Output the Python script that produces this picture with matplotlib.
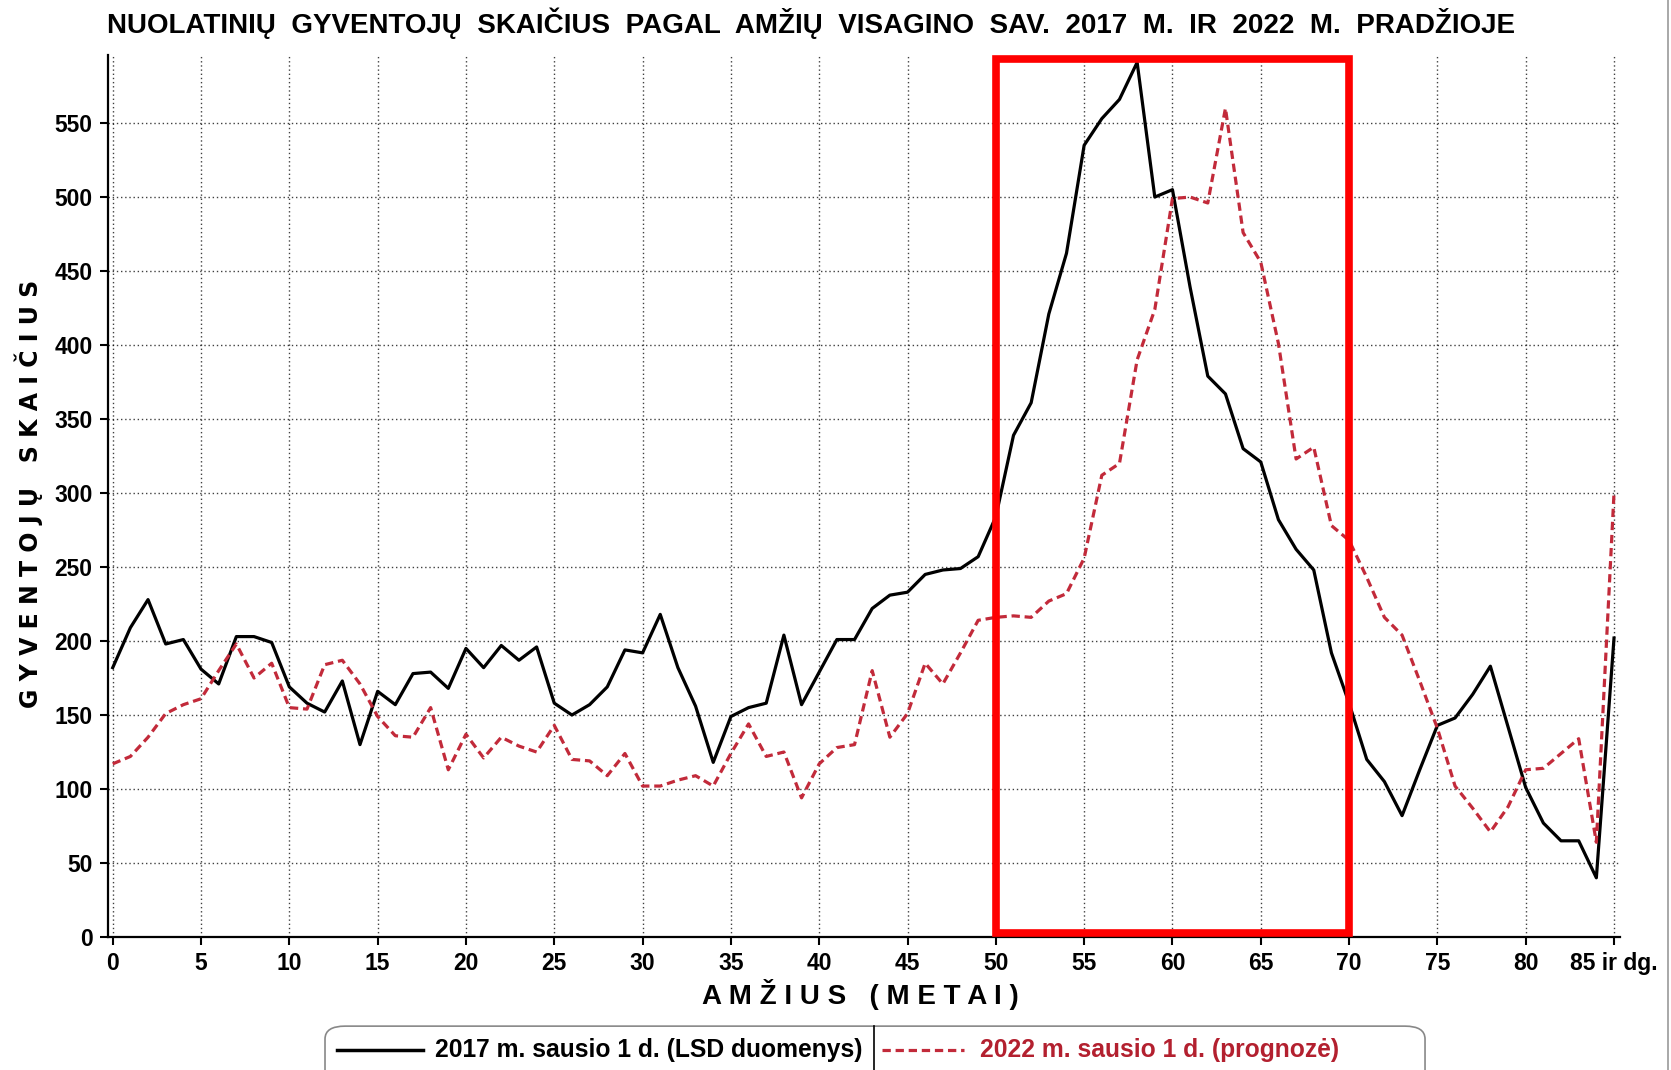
import matplotlib
matplotlib.use('Agg')
import matplotlib.pyplot as plt
from matplotlib.patches import Rectangle, FancyBboxPatch
from matplotlib.lines import Line2D

# amzius (metai), paskutinis - "85 ir dg."
ages = list(range(86))
x_ticks = [0, 5, 10, 15, 20, 25, 30, 35, 40, 45, 50, 55, 60, 65, 70, 75, 80, 85]
x_tick_labels = ['0', '5', '10', '15', '20', '25', '30', '35', '40', '45', '50',
                 '55', '60', '65', '70', '75', '80', '85 ir dg.']
y_ticks = [0, 50, 100, 150, 200, 250, 300, 350, 400, 450, 500, 550]

# 2017 m. sausio 1 d. (LSD duomenys)
pop_2017 = [182, 209, 228, 198, 201, 181, 171, 203, 203, 199,
            169, 158, 152, 173, 130, 166, 157, 178, 179, 168,
            195, 182, 197, 187, 196, 158, 150, 157, 169, 194,
            192, 218, 182, 156, 118, 149, 155, 158, 204, 157,
            179, 201, 201, 222, 231, 233, 245, 248, 249, 257,
            284, 339, 361, 421, 462, 535, 553, 566, 591, 500,
            505, 439, 379, 367, 330, 321, 282, 262, 248, 192,
            158, 120, 105, 82, 113, 143, 148, 164, 183, 142,
            101, 77, 65, 65, 40, 202]

# 2022 m. sausio 1 d. (prognoze)
pop_2022 = [117, 122, 135, 151, 157, 161, 180, 198, 175, 185,
            155, 154, 184, 187, 171, 149, 136, 135, 155, 113,
            137, 121, 135, 129, 125, 143, 120, 119, 109, 124,
            102, 102, 106, 109, 102, 124, 144, 122, 125, 94,
            117, 128, 130, 180, 135, 151, 185, 171, 192, 214,
            216, 217, 216, 227, 232, 256, 312, 320, 390, 424,
            499, 500, 496, 560, 476, 456, 401, 323, 331, 278,
            268, 243, 216, 204, 173, 141, 102, 87, 71, 88,
            113, 114, 124, 134, 64, 300]

highlight = (50, 70)

font = 'Liberation Sans'
red_line = '#C22A3A'
red_text = '#B3202F'

fig = plt.figure(figsize=(16.71, 10.70), dpi=100)
ax = fig.add_axes([0.0646, 0.1243, 0.905, 0.8243])

ax.plot(ages, pop_2017, color='black', lw=2.3, zorder=3)
ax.plot(ages, pop_2022, color=red_line, lw=2.3, linestyle=(0, (2.6, 1.5)), zorder=3)

ax.add_patch(Rectangle((highlight[0], 3), highlight[1] - highlight[0], 590,
                       fill=False, edgecolor='#FF0000', lw=5.5, clip_on=False, zorder=5))

ax.set_xlim(-0.27, 85.35)
ax.set_ylim(0, 596)
ax.set_xticks(x_ticks)
ax.set_xticklabels(x_tick_labels)
ax.set_yticks(y_ticks)
ax.grid(True, linestyle=(0, (1, 2)), color='black', lw=1.0, alpha=0.75)
ax.set_axisbelow(True)
for s in ['top', 'right']:
    ax.spines[s].set_visible(False)
for s in ['left', 'bottom']:
    ax.spines[s].set_linewidth(1.6)
ax.tick_params(direction='out', length=6, width=1.5, pad=5)
for lab in ax.get_xticklabels() + ax.get_yticklabels():
    lab.set_fontweight('bold')
    lab.set_fontsize(16.5)
    lab.set_family(font)

fig.text(0.064, 0.978,
         'NUOLATINIŲ  GYVENTOJŲ  SKAIČIUS  PAGAL  AMŽIŲ  VISAGINO  SAV.  2017  M.  IR  2022  M.  PRADŽIOJE',
         fontsize=20, fontweight='bold', family=font, va='center', ha='left')
fig.text(0.5147, 0.071, 'A M Ž I U S   ( M E T A I )', fontsize=20, fontweight='bold',
         family=font, ha='center', va='center')
fig.text(0.0174, 0.538, 'G Y V E N T O J Ų   S K A I Č I U S', fontsize=17, fontweight='bold',
         family='DejaVu Sans', rotation=90, ha='center', va='center')

# legenda
box = FancyBboxPatch((0.1945, -0.03), 0.6583, 0.071,
                     boxstyle='round,pad=0,rounding_size=0.012',
                     transform=fig.transFigure, facecolor='white',
                     edgecolor='#888888', lw=1.2)
fig.patches.append(box)
ly = 1 - 1050 / 1070
fig.lines.append(Line2D([337 / 1671, 423 / 1671], [ly, ly], transform=fig.transFigure,
                        color='black', lw=2.5))
fig.text(435 / 1671, ly, '2017 m. sausio 1 d. (LSD duomenys)', fontsize=17.7, fontweight='bold',
         family=font, va='center', ha='left', color='black')
fig.lines.append(Line2D([874 / 1671, 874 / 1671], [-0.01, 0.041], transform=fig.transFigure,
                        color='black', lw=1.2))
fig.lines.append(Line2D([882 / 1671, 964 / 1671], [ly, ly], transform=fig.transFigure,
                        color=red_line, lw=2.3, linestyle=(0, (2.6, 1.5))))
fig.text(980 / 1671, ly, '2022 m. sausio 1 d. (prognozė)', fontsize=17.7, fontweight='bold',
         family=font, va='center', ha='left', color=red_text)

# plonas remelis desineje
fig.lines.append(Line2D([0.9985, 0.9985], [0, 1], transform=fig.transFigure,
                        color='#999999', lw=1.2))

fig.savefig('out.png', dpi=100)
